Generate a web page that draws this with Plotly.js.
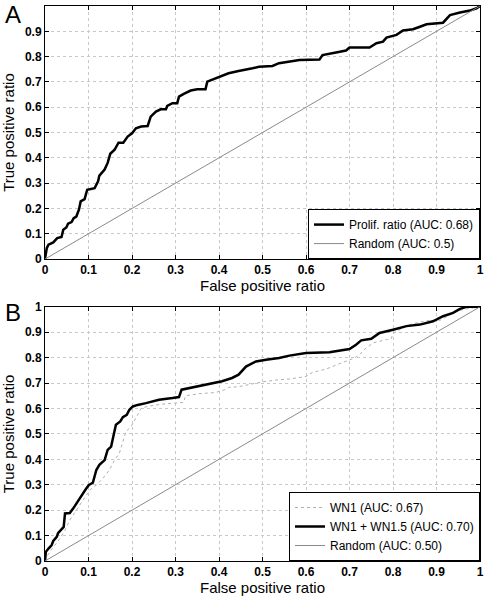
<!DOCTYPE html>
<html>
<head>
<meta charset="utf-8">
<script src="https://cdn.plot.ly/plotly-3.0.1.min.js"></script>
<style>html,body{margin:0;padding:0;background:#fff;}#chart{width:486px;height:596px;}</style>
</head>
<body>
<div id="chart"></div>
<script>
// Panel A: Proliferation ratio ROC
const prolifX = [0,0.004,0.008,0.019,0.028,0.038,0.042,0.049,0.053,0.061,0.066,0.072,0.078,0.082,0.091,0.097,0.114,0.122,0.125,0.137,0.144,0.150,0.160,0.169,0.180,0.190,0.200,0.209,0.221,0.236,0.243,0.255,0.266,0.278,0.281,0.293,0.304,0.308,0.319,0.335,0.350,0.369,0.373,0.384,0.395,0.407,0.422,0.445,0.462,0.477,0.492,0.523,0.538,0.562,0.585,0.631,0.638,0.669,0.692,0.700,0.746,0.762,0.777,0.785,0.808,0.823,0.846,0.862,0.877,0.915,0.931,0.954,0.977,0.992,1];
const prolifY = [0,0.043,0.057,0.066,0.083,0.087,0.116,0.125,0.140,0.146,0.162,0.168,0.195,0.228,0.237,0.274,0.280,0.307,0.330,0.354,0.380,0.416,0.432,0.460,0.460,0.484,0.497,0.517,0.524,0.526,0.563,0.583,0.592,0.592,0.605,0.616,0.616,0.642,0.653,0.666,0.671,0.671,0.701,0.708,0.714,0.724,0.734,0.743,0.748,0.754,0.760,0.763,0.774,0.780,0.787,0.789,0.806,0.816,0.824,0.836,0.836,0.853,0.859,0.875,0.886,0.903,0.908,0.918,0.928,0.934,0.964,0.974,0.982,0.991,1];

// Panel B: WN1 + WN1.5 ROC
const comboX = [0,0.002,0.008,0.015,0.019,0.027,0.030,0.038,0.043,0.046,0.057,0.065,0.072,0.080,0.087,0.094,0.101,0.110,0.118,0.125,0.137,0.144,0.152,0.157,0.163,0.173,0.179,0.188,0.194,0.202,0.213,0.232,0.247,0.262,0.293,0.308,0.314,0.331,0.354,0.384,0.407,0.430,0.445,0.462,0.485,0.508,0.538,0.562,0.600,0.654,0.677,0.700,0.715,0.727,0.750,0.769,0.800,0.831,0.862,0.892,0.915,0.938,0.954,0.969,1];
const comboY = [0,0.036,0.049,0.062,0.079,0.095,0.110,0.124,0.134,0.187,0.189,0.207,0.226,0.246,0.266,0.283,0.299,0.308,0.358,0.378,0.397,0.437,0.450,0.492,0.536,0.549,0.566,0.575,0.595,0.608,0.614,0.621,0.628,0.634,0.641,0.645,0.674,0.680,0.687,0.697,0.707,0.720,0.733,0.765,0.785,0.792,0.799,0.808,0.818,0.821,0.828,0.834,0.851,0.868,0.874,0.897,0.910,0.924,0.930,0.943,0.963,0.976,0.992,1,1];

// Panel B: WN1 ROC
const wn1X = [0,0.004,0.011,0.023,0.034,0.046,0.057,0.072,0.087,0.103,0.118,0.133,0.148,0.160,0.171,0.179,0.186,0.198,0.205,0.213,0.221,0.240,0.270,0.300,0.319,0.323,0.354,0.392,0.414,0.422,0.446,0.477,0.508,0.538,0.562,0.600,0.615,0.646,0.669,0.692,0.712,0.723,0.738,0.754,0.785,0.796,0.800,0.815,0.838,0.862,0.885,0.908,0.931,0.946,0.962,0.985,1];
const wn1Y = [0,0.016,0.036,0.062,0.088,0.121,0.161,0.200,0.240,0.279,0.299,0.325,0.358,0.397,0.424,0.470,0.509,0.529,0.549,0.575,0.601,0.610,0.617,0.621,0.624,0.650,0.658,0.663,0.674,0.683,0.686,0.697,0.707,0.713,0.716,0.726,0.742,0.755,0.772,0.786,0.799,0.812,0.838,0.858,0.871,0.874,0.897,0.910,0.930,0.940,0.947,0.947,0.969,0.982,0.990,0.996,1];

const randomX = [0,1];
const randomY = [0,1];

const labelsA = ['Prolif. ratio (AUC: 0.68)', 'Random (AUC: 0.5)'];
const labelsB = ['WN1 (AUC: 0.67)', 'WN1 + WN1.5 (AUC: 0.70)', 'Random (AUC: 0.50)'];
const tickVals = [0,0.1,0.2,0.3,0.4,0.5,0.6,0.7,0.8,0.9,1];
const tickText = ['0','0.1','0.2','0.3','0.4','0.5','0.6','0.7','0.8','0.9','1'];

const data = [
  {x: prolifX, y: prolifY, xaxis:'x', yaxis:'y', mode:'lines', name: labelsA[0], line:{color:'#000', width:2.5}, legend:'legend'},
  {x: randomX, y: randomY, xaxis:'x', yaxis:'y', mode:'lines', name: labelsA[1], line:{color:'#8a8a8a', width:1}, legend:'legend'},
  {x: wn1X, y: wn1Y, xaxis:'x2', yaxis:'y2', mode:'lines', name: labelsB[0], line:{color:'#b0b0b0', width:1, dash:'dot'}, legend:'legend2'},
  {x: comboX, y: comboY, xaxis:'x2', yaxis:'y2', mode:'lines', name: labelsB[1], line:{color:'#000', width:2.5}, legend:'legend2'},
  {x: randomX, y: randomY, xaxis:'x2', yaxis:'y2', mode:'lines', name: labelsB[2], line:{color:'#8a8a8a', width:1}, legend:'legend2'}
];

const tickFont = {family:'Arial, Liberation Sans, sans-serif', size:12, color:'#000', weight:'bold'};
const titleFont = {family:'Arial, Liberation Sans, sans-serif', size:15, color:'#000'};

function axis(extra){
  return Object.assign({
    range:[0,1], tickvals: tickVals, ticktext: tickText,
    showgrid:true, gridcolor:'#c8c8c8', griddash:'dot', gridwidth:1,
    showline:true, linecolor:'#000', linewidth:1, mirror:'ticks',
    ticks:'inside', ticklen:4, tickcolor:'#000',
    tickfont: tickFont, zeroline:false, automargin:false, fixedrange:true
  }, extra);
}

const legendCommon = {
  xanchor:'right', yanchor:'bottom', bgcolor:'#fff', bordercolor:'#000', borderwidth:1,
  font:{family:'Arial, Liberation Sans, sans-serif', size:12, color:'#000'},
  itemwidth:30, tracegroupgap:0
};

const layout = {
  width:486, height:596,
  margin:{l:45, r:6, t:6, b:35},
  paper_bgcolor:'#fff', plot_bgcolor:'#fff',
  showlegend:true,
  xaxis: axis({domain:[0,1], anchor:'y', title:{text:'False positive ratio', font:titleFont, standoff:3}}),
  yaxis: axis({domain:[0.544,1], anchor:'x', title:{text:'True positive ratio', font:titleFont, standoff:6}}),
  xaxis2: axis({domain:[0,1], anchor:'y2', title:{text:'False positive ratio', font:titleFont, standoff:3}}),
  yaxis2: axis({domain:[0,0.458], anchor:'x2', title:{text:'True positive ratio', font:titleFont, standoff:6}}),
  legend: Object.assign({x:1, y:0.544}, legendCommon),
  legend2: Object.assign({x:1, y:0}, legendCommon),
  annotations:[
    {text:'A', xref:'paper', yref:'paper', x:-0.097, y:0.985, xanchor:'left', yanchor:'middle', showarrow:false, font:{family:'Arial, Liberation Sans, sans-serif', size:24, color:'#000'}},
    {text:'B', xref:'paper', yref:'paper', x:-0.097, y:0.448, xanchor:'left', yanchor:'middle', showarrow:false, font:{family:'Arial, Liberation Sans, sans-serif', size:24, color:'#000'}}
  ]
};

Plotly.newPlot('chart', data, layout, {displayModeBar:false, staticPlot:true});
</script>
</body>
</html>
